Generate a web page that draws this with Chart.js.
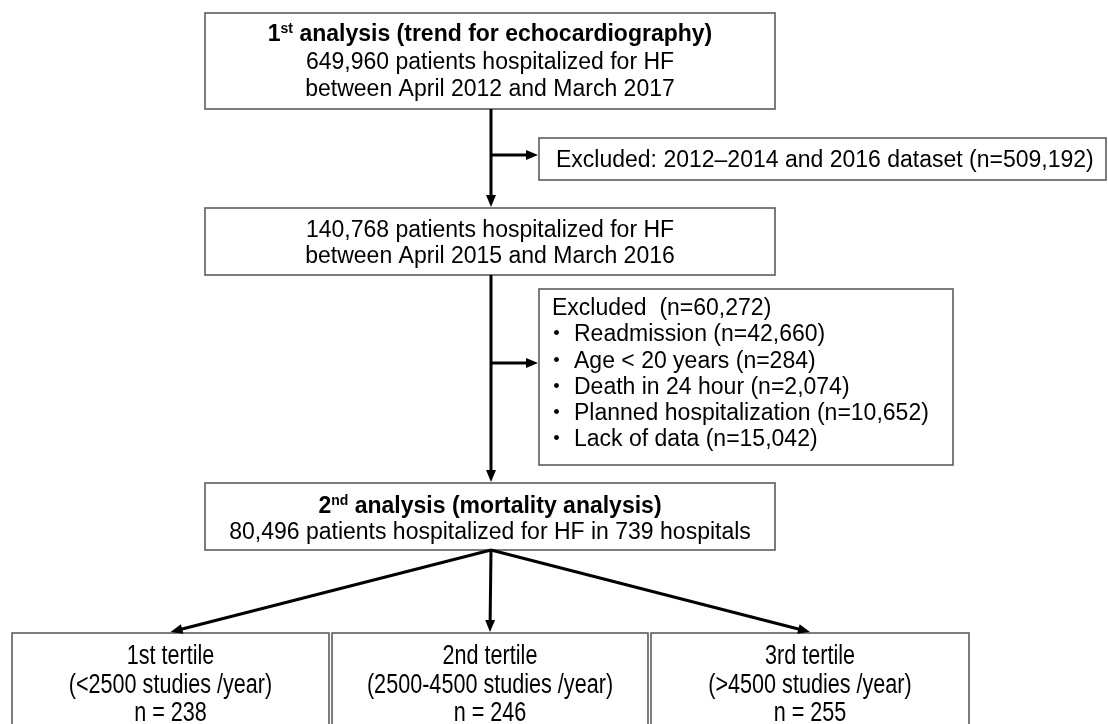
<!DOCTYPE html>
<html>
<head>
<meta charset="utf-8">
<script src="https://cdn.jsdelivr.net/npm/chart.js@4.4.1/dist/chart.umd.min.js"></script>
<style>
  html, body { margin: 0; padding: 0; background: #fff; }
  canvas { display: block; }
</style>
</head>
<body>
<canvas id="flow" width="1108" height="724"></canvas>
<script>
// ---- data ----
var analysisOrdinal = ['1', '2'];
var analysisSuffix = ['st', 'nd'];
var analysisTitle = [' analysis (trend for echocardiography)', ' analysis (mortality analysis)'];
var patients = [649960, 140768, 80496];
var periods = ['between April 2012 and March 2017', 'between April 2015 and March 2016'];
var hospitals = 739;
var excludedDatasets = '2012\u20132014 and 2016 dataset';
var excludedTotals = [509192, 60272];
var exclusionReasons = ['Readmission', 'Age < 20 years', 'Death in 24 hour', 'Planned hospitalization', 'Lack of data'];
var exclusionCounts = [42660, 284, 2074, 10652, 15042];
var tertileNames = ['1st tertile', '2nd tertile', '3rd tertile'];
var tertileRanges = ['<2500', '2500-4500', '>4500'];
var tertileN = [238, 246, 255];

// ---- layout (diagram units = canvas pixels) ----
var boxTop = [205, 13, 775, 109];
var boxExcl1 = [539, 138, 1106, 180];
var boxMid = [205, 208, 775, 275];
var boxExcl2 = [539, 289, 953, 465];
var boxSecond = [205, 483, 775, 550];
var boxTertiles = [[12, 633, 329, 740], [332, 633, 648, 740], [651, 633, 969, 740]];
var trunkX = 491;
var branchY = [155, 363];

var FONT = '"Liberation Sans", Arial, "Noto Sans CJK JP", sans-serif';
var SIZE = 23;
var NARROW_SIZE = 27;

function fmt(n) { return n.toLocaleString('en-US'); }

var flowPlugin = {
  id: 'flow',
  afterDraw: function (chart) {
    var ctx = chart.ctx;
    var sx = chart.scales.x, sy = chart.scales.y;
    function X(v) { return sx.getPixelForValue(v); }
    function Y(v) { return sy.getPixelForValue(v); }

    function box(b) {
      ctx.save();
      ctx.strokeStyle = '#5c5c5c';
      ctx.lineWidth = 1.6;
      ctx.strokeRect(X(b[0]), Y(b[1]), X(b[2]) - X(b[0]), Y(b[3]) - Y(b[1]));
      ctx.restore();
    }
    // y is the visual middle of the line; text sits on an alphabetic baseline
    function text(str, x, y, align, bold) {
      ctx.save();
      ctx.fillStyle = '#000';
      ctx.font = (bold ? 'bold ' : '') + SIZE + 'px ' + FONT;
      ctx.textAlign = align;
      ctx.textBaseline = 'alphabetic';
      ctx.fillText(str, X(x), Y(y) + SIZE * 0.36);
      ctx.restore();
    }
    function narrowText(str, x, y) {
      ctx.save();
      ctx.fillStyle = '#000';
      ctx.font = NARROW_SIZE + 'px ' + FONT;
      ctx.textAlign = 'center';
      ctx.textBaseline = 'alphabetic';
      ctx.translate(X(x), Y(y) + NARROW_SIZE * 0.36);
      ctx.scale(0.8, 1);
      ctx.fillText(str, 0, 0);
      ctx.restore();
    }
    function titleText(i, cx, y) {
      ctx.save();
      ctx.fillStyle = '#000';
      ctx.textBaseline = 'alphabetic';
      var big = 'bold ' + SIZE + 'px ' + FONT;
      var small = 'bold ' + Math.round(SIZE * 0.62) + 'px ' + FONT;
      ctx.font = big;
      var w1 = ctx.measureText(analysisOrdinal[i]).width;
      var w3 = ctx.measureText(analysisTitle[i]).width;
      ctx.font = small;
      var w2 = ctx.measureText(analysisSuffix[i]).width;
      var x0 = X(cx) - (w1 + w2 + w3) / 2;
      var base = Y(y) + SIZE * 0.36;
      ctx.font = big;
      ctx.fillText(analysisOrdinal[i], x0, base);
      ctx.font = small;
      ctx.fillText(analysisSuffix[i], x0 + w1, base - SIZE * 0.36);
      ctx.font = big;
      ctx.fillText(analysisTitle[i], x0 + w1 + w2, base);
      ctx.restore();
    }
    function arrow(x0, y0, x1, y1) {
      var a = X(x0), b = Y(y0), c = X(x1), d = Y(y1);
      var ang = Math.atan2(d - b, c - a);
      var len = 12, half = 5;
      ctx.save();
      ctx.strokeStyle = '#000';
      ctx.fillStyle = '#000';
      ctx.lineWidth = 3;
      ctx.beginPath();
      ctx.moveTo(a, b);
      ctx.lineTo(c - Math.cos(ang) * (len - 2), d - Math.sin(ang) * (len - 2));
      ctx.stroke();
      ctx.translate(c, d);
      ctx.rotate(ang);
      ctx.beginPath();
      ctx.moveTo(0, 0);
      ctx.lineTo(-len, -half);
      ctx.lineTo(-len, half);
      ctx.closePath();
      ctx.fill();
      ctx.restore();
    }

    // boxes
    [boxTop, boxExcl1, boxMid, boxExcl2, boxSecond].forEach(box);
    boxTertiles.forEach(box);

    // first analysis
    var cTop = (boxTop[0] + boxTop[2]) / 2;
    titleText(0, cTop, 33);
    text(fmt(patients[0]) + ' patients hospitalized for HF', cTop, 61, 'center');
    text(periods[0], cTop, 88, 'center');

    // first exclusion
    text('Excluded: ' + excludedDatasets + ' (n=' + fmt(excludedTotals[0]) + ')', boxExcl1[0] + 17, 159, 'left');

    // after first exclusion
    var cMid = (boxMid[0] + boxMid[2]) / 2;
    text(fmt(patients[1]) + ' patients hospitalized for HF', cMid, 229, 'center');
    text(periods[1], cMid, 255, 'center');

    // second exclusion
    text('Excluded  (n=' + fmt(excludedTotals[1]) + ')', boxExcl2[0] + 13, 307, 'left');
    exclusionReasons.forEach(function (r, i) {
      var y = 333 + i * 26.3;
      text('\u30fb', boxExcl2[0] + 6, y, 'left');
      text(r + ' (n=' + fmt(exclusionCounts[i]) + ')', boxExcl2[0] + 35, y, 'left');
    });

    // second analysis
    var cSec = (boxSecond[0] + boxSecond[2]) / 2;
    titleText(1, cSec, 505);
    text(fmt(patients[2]) + ' patients hospitalized for HF in ' + hospitals + ' hospitals', cSec, 531, 'center');

    // tertiles
    boxTertiles.forEach(function (b, i) {
      var c = (b[0] + b[2]) / 2;
      narrowText(tertileNames[i], c, 654);
      narrowText('(' + tertileRanges[i] + ' studies /year)', c, 683);
      narrowText('n = ' + tertileN[i], c, 711);
    });

    // connectors
    arrow(trunkX, boxTop[3], trunkX, boxMid[1] - 1);
    arrow(trunkX, branchY[0], boxExcl1[0] - 1, branchY[0]);
    arrow(trunkX, boxMid[3], trunkX, boxSecond[1] - 1);
    arrow(trunkX, branchY[1], boxExcl2[0] - 1, branchY[1]);
    boxTertiles.forEach(function (b) {
      arrow(trunkX, boxSecond[3], (b[0] + b[2]) / 2, b[1] - 1);
    });
  }
};

new Chart(document.getElementById('flow'), {
  type: 'scatter',
  data: { datasets: [{ data: [], pointRadius: 0 }] },
  options: {
    responsive: false,
    animation: false,
    layout: { padding: 0 },
    plugins: { legend: { display: false }, tooltip: { enabled: false } },
    scales: {
      x: { display: false, min: 0, max: 1108 },
      y: { display: false, min: 0, max: 724, reverse: true }
    }
  },
  plugins: [flowPlugin]
});
</script>
</body>
</html>
